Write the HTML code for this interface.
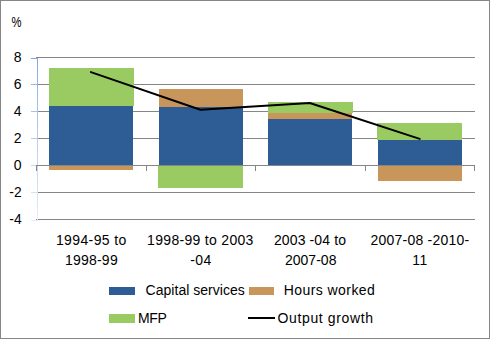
<!DOCTYPE html>
<html><head><meta charset="utf-8">
<style>
html,body{margin:0;padding:0;background:#fff;}
body{width:490px;height:339px;overflow:hidden;position:relative;}
svg{position:absolute;left:0;top:0;display:block;}
text{font-family:"Liberation Sans", sans-serif;font-size:14px;fill:#000;}
</style></head>
<body>
<svg width="490" height="339" viewBox="0 0 490 339">
<rect x="0" y="0" width="490" height="339" fill="#fff"/>
<!-- outer border -->
<rect x="0.5" y="0.5" width="489" height="338" fill="none" stroke="#868686" stroke-width="1"/>
<!-- gridlines -->
<g fill="#868686">
<rect x="36" y="57" width="439" height="1"/>
<rect x="36" y="84" width="439" height="1"/>
<rect x="36" y="111" width="439" height="1"/>
<rect x="36" y="138" width="439" height="1"/>
<rect x="36" y="192" width="439" height="1"/>
<rect x="36" y="219" width="439" height="1"/>
</g>
<!-- value axis -->
<defs><linearGradient id="ax" x1="0" y1="57" x2="0" y2="221" gradientUnits="userSpaceOnUse">
<stop offset="0" stop-color="#86a6e0"/><stop offset="0.33" stop-color="#a9c0ea"/><stop offset="0.66" stop-color="#c9d6f0"/><stop offset="1" stop-color="#e6ecf8"/></linearGradient></defs>
<g fill="url(#ax)">
<rect x="37" y="58" width="1" height="163"/>
<rect x="31" y="58" width="7" height="1"/>
<rect x="31" y="84" width="7" height="1"/>
<rect x="31" y="111" width="7" height="1"/>
<rect x="31" y="138" width="7" height="1"/>
<rect x="31" y="165" width="7" height="1"/>
<rect x="31" y="192" width="7" height="1"/>
<rect x="31" y="220" width="7" height="1"/>
</g>
<!-- bars -->
<g>
<rect x="49" y="106" width="84" height="59" fill="#2e5d96"/>
<rect x="49" y="68" width="85" height="38" fill="#9aca62"/>
<rect x="49" y="166" width="84" height="4" fill="#c8955b"/>
<rect x="159" y="107" width="84" height="58" fill="#2e5d96"/>
<rect x="159" y="89" width="84" height="18" fill="#c8955b"/>
<rect x="158" y="166" width="85" height="22" fill="#9aca62"/>
<rect x="268" y="119" width="84" height="46" fill="#2e5d96"/>
<rect x="268" y="113" width="84" height="6" fill="#c8955b"/>
<rect x="268" y="102" width="85" height="11" fill="#9aca62"/>
<rect x="378" y="140" width="84" height="25" fill="#2e5d96"/>
<rect x="377" y="123" width="85" height="17" fill="#9aca62"/>
<rect x="378" y="166" width="84" height="15" fill="#c8955b"/>
</g>
<!-- zero axis -->
<g fill="#868686">
<rect x="36" y="165" width="439" height="1"/>
<rect x="36" y="165" width="1" height="6"/>
<rect x="146" y="165" width="1" height="6"/>
<rect x="255" y="165" width="1" height="6"/>
<rect x="365" y="165" width="1" height="6"/>
<rect x="474" y="165" width="1" height="6"/>
</g>
<!-- line -->
<polyline points="90.9,72.1 200.4,109.8 309.8,103 419.7,138.9" fill="none" stroke="#000" stroke-width="2" stroke-linejoin="round" stroke-linecap="round"/>
<!-- labels -->
<text id="pct" x="11.6" y="27" textLength="10" lengthAdjust="spacingAndGlyphs">%</text>
<g text-anchor="end">
<text x="21.6" y="62">8</text>
<text x="21.6" y="89">6</text>
<text x="21.6" y="116">4</text>
<text x="21.6" y="143">2</text>
<text x="21.6" y="170">0</text>
<text x="21.6" y="197" textLength="12.3" lengthAdjust="spacingAndGlyphs">-2</text>
<text x="21.6" y="224" textLength="12.3" lengthAdjust="spacingAndGlyphs">-4</text>
</g>
<g>
<text id="cat1l1" x="55.9" y="245" textLength="70.45" lengthAdjust="spacing">1994-95 to</text>
<text id="cat1l2" x="64.9" y="265" textLength="52.79" lengthAdjust="spacing">1998-99</text>
<text id="cat2l1" x="147.1" y="245" textLength="106.28" lengthAdjust="spacing">1998-99 to 2003</text>
<text id="cat2l2" x="190.2" y="265" textLength="21.03" lengthAdjust="spacing">-04</text>
<text id="cat3l1" x="273.9" y="245" textLength="72.04" lengthAdjust="spacing">2003 -04 to</text>
<text id="cat3l2" x="284.9" y="265" textLength="51.59" lengthAdjust="spacing">2007-08</text>
<text id="cat4l1" x="370.6" y="245" textLength="98.45" lengthAdjust="spacing">2007-08 -2010-</text>
<text id="cat4l2" x="412.3" y="265" textLength="14.95" lengthAdjust="spacing">11</text>
</g>
<!-- legend -->
<rect x="109" y="287" width="26" height="8" fill="#2e5d96"/>
<text id="cap" x="145.6" y="295" textLength="99.13" lengthAdjust="spacing">Capital services</text>
<rect x="249" y="287" width="25" height="8" fill="#c8955b"/>
<text id="hrs" x="283.7" y="295" textLength="91.17" lengthAdjust="spacing">Hours worked</text>
<rect x="109" y="314" width="26" height="9" fill="#9aca62"/>
<text id="mfp" x="138.0" y="323" textLength="28.96" lengthAdjust="spacing">MFP</text>
<rect x="248" y="317" width="27" height="2" fill="#000"/>
<text id="out" x="277.6" y="323" textLength="95.34" lengthAdjust="spacing">Output growth</text>
</svg>
</body></html>
